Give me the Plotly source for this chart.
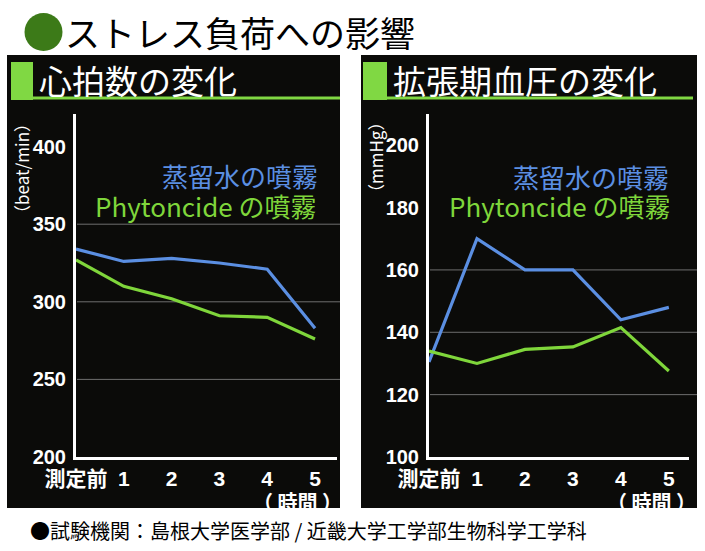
import plotly.graph_objects as go

W, H = 705, 551

# ---- data ----
X_LABELS = ["測定前", "1", "2", "3", "4", "5"]
X_POS = [0, 1, 2, 3, 4, 5]

HR_WATER = [334, 326, 328, 325, 321, 283]
HR_PHYTO = [327, 310, 302, 291, 290, 276]
HR_TICKS = [200, 250, 300, 350, 400]
HR_GRID = [250, 300, 350]

BP_WATER = [130.5, 170, 160, 160, 144, 148]
BP_PHYTO = [134, 130, 134.5, 135.3, 141.5, 127.6]
BP_TICKS = [100, 120, 140, 160, 180, 200]
BP_GRID = [120, 140, 160]

TITLE = "ストレス負荷への影響"
LEFT_HEAD = "心拍数の変化"
RIGHT_HEAD = "拡張期血圧の変化"
LEFT_UNIT = "（beat/min）"
RIGHT_UNIT = "（mmHg）"
LEG_WATER = "蒸留水の噴霧"
LEG_PHYTO = "Phytoncide の噴霧"
TIME_LABEL = "（ 時間 ）"
FOOTER = "●試験機関：島根大学医学部 / 近畿大学工学部生物科学工学科"

BLUE = "#5b8fe2"
GREEN = "#7fd63b"
PANEL = "#0b0b09"
HEAD_GREEN = "#80d843"
DARK_GREEN = "#3c7a18"
GRID = "#6e6e6e"

NUM_FONT = "Liberation Sans, Noto Sans CJK JP"
JP_FONT = "Noto Sans CJK JP"


def px(x):
    return x / W


def py(y):
    return 1 - y / H


Y_DOM = [py(457), py(114)]

fig = go.Figure()

fig.add_trace(go.Scatter(x=X_POS, y=HR_WATER, mode="lines", line=dict(color=BLUE, width=3.2),
                         xaxis="x", yaxis="y", showlegend=False))
fig.add_trace(go.Scatter(x=X_POS, y=HR_PHYTO, mode="lines", line=dict(color=GREEN, width=3.2),
                         xaxis="x", yaxis="y", showlegend=False))
fig.add_trace(go.Scatter(x=X_POS, y=BP_WATER, mode="lines", line=dict(color=BLUE, width=3.2),
                         xaxis="x2", yaxis="y2", showlegend=False))
fig.add_trace(go.Scatter(x=X_POS, y=BP_PHYTO, mode="lines", line=dict(color=GREEN, width=3.2),
                         xaxis="x2", yaxis="y2", showlegend=False))

xcommon = dict(showline=True, linecolor="white", linewidth=3, showgrid=False, zeroline=False,
               tickvals=X_POS, ticktext=X_LABELS, ticks="", ticklabelstandoff=1,
               tickfont=dict(family=NUM_FONT, size=21, color="white", weight="bold"),
               fixedrange=True, automargin=False)
ycommon = dict(showline=True, linecolor="white", linewidth=3, showgrid=False, zeroline=False,
               ticks="", ticklabelstandoff=3,
               tickfont=dict(family=NUM_FONT, size=20, color="white", weight="bold"),
               fixedrange=True, automargin=False)

fig.update_layout(
    width=W, height=H, autosize=False,
    margin=dict(l=0, r=0, t=0, b=0, pad=0),
    paper_bgcolor="white", plot_bgcolor="rgba(0,0,0,0)",
    xaxis=dict(domain=[px(76), px(337)], range=[0, 5.46], anchor="y", **xcommon),
    yaxis=dict(domain=Y_DOM, range=[200, 421], anchor="x", tickvals=HR_TICKS, **ycommon),
    xaxis2=dict(domain=[px(429), px(689)], range=[0, 5.42], anchor="y2", **xcommon),
    yaxis2=dict(domain=Y_DOM, range=[100, 210], anchor="x2", tickvals=BP_TICKS, **ycommon),
)

shapes = []
# panels
for x0, x1 in [(7, 340), (361, 697)]:
    shapes.append(dict(type="rect", xref="paper", yref="paper", x0=px(x0), x1=px(x1),
                       y0=py(508), y1=py(55), fillcolor=PANEL, line=dict(width=0), layer="below"))
# header green squares and underline
for sx0, sx1, ux1 in [(11, 33, 340), (363, 387, 693)]:
    shapes.append(dict(type="rect", xref="paper", yref="paper", x0=px(sx0), x1=px(sx1),
                       y0=py(100), y1=py(62), fillcolor=HEAD_GREEN, line=dict(width=0), layer="below"))
    shapes.append(dict(type="rect", xref="paper", yref="paper", x0=px(sx1), x1=px(ux1),
                       y0=py(99.5), y1=py(96.5), fillcolor=HEAD_GREEN, line=dict(width=0), layer="below"))
# gridlines
for v in HR_GRID:
    shapes.append(dict(type="line", xref="paper", yref="y", x0=px(77), x1=px(340), y0=v, y1=v,
                       line=dict(color=GRID, width=1), layer="below"))
for v in BP_GRID:
    shapes.append(dict(type="line", xref="paper", yref="y2", x0=px(430), x1=px(697), y0=v, y1=v,
                       line=dict(color=GRID, width=1), layer="below"))
# title circle
shapes.append(dict(type="circle", xref="paper", yref="paper", x0=px(24.5), x1=px(62.5),
                   y0=py(51), y1=py(13), fillcolor=DARK_GREEN, line=dict(width=0)))
fig.update_layout(shapes=shapes)

ann = []


def a(text, x, y, size, color, family=JP_FONT, xanchor="left", weight="normal", angle=0):
    ann.append(dict(text=text, x=px(x), y=py(y), xref="paper", yref="paper", showarrow=False,
                    xanchor=xanchor, yanchor="middle", textangle=angle,
                    font=dict(family=family, size=size, color=color, weight=weight)))


a(TITLE, 63, 32, 35, "black")
a(LEFT_HEAD, 37, 80, 33, "white")
a(RIGHT_HEAD, 391, 80, 33, "white")
a(LEFT_UNIT, 22, 169, 17, "white", angle=-90, xanchor="center")
a(RIGHT_UNIT, 376, 158, 17, "white", angle=-90, xanchor="center")
a(LEG_WATER, 320, 175, 26, BLUE, xanchor="right")
a(LEG_PHYTO, 319, 206, 26, GREEN, xanchor="right")
a(LEG_WATER, 671, 176, 26, BLUE, xanchor="right")
a(LEG_PHYTO, 673, 206, 26, GREEN, xanchor="right")
a(TIME_LABEL, 297, 501, 20, "white", xanchor="center", weight="bold")
a(TIME_LABEL, 651, 501, 20, "white", xanchor="center", weight="bold")
a(FOOTER, 28, 530, 20, "black")
fig.update_layout(annotations=ann)

fig.write_html("out.html", config={"displayModeBar": False},
               post_script="document.body.style.margin='0px';")
